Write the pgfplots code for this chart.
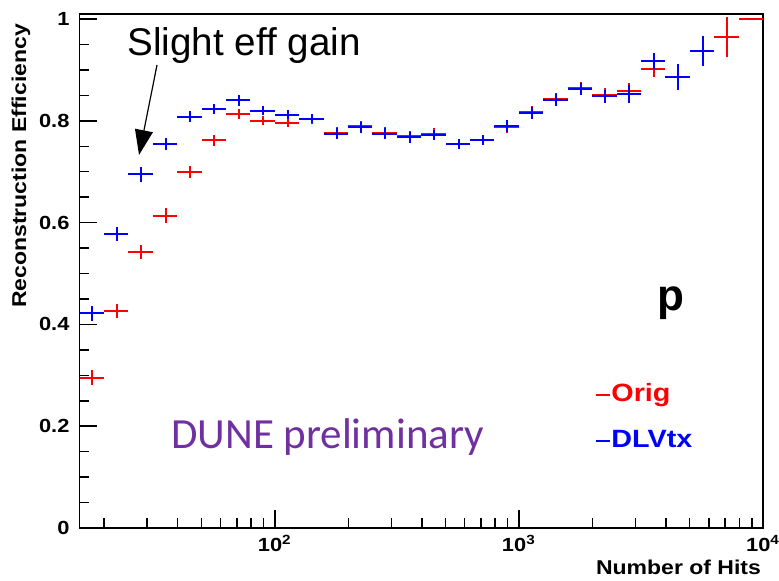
\documentclass[border=0pt]{standalone}
\usepackage{fontspec}
\setmainfont{Liberation Sans}
\newfontfamily\rootfont[FakeStretch=1.15]{Liberation Sans}
\newfontfamily\dunefont{Carlito}
\usepackage{pgfplots}
\pgfplotsset{compat=1.18}
\usepackage{pgfplotstable}
\usetikzlibrary{arrows.meta}
\definecolor{duneviolet}{RGB}{112,48,160}

% 28 log bins, 10^1.2 .. 10^4; x = linear bin centre, ex = half width
\pgfplotstableread{
x       ex      y      ey
17.901  2.052   0.295  0.015
22.536  2.583   0.426  0.014
28.371  3.252   0.543  0.014
35.717  4.094   0.614  0.015
44.965  5.154   0.699  0.012
56.608  6.489   0.762  0.011
71.265  8.169   0.813  0.010
89.717  10.284  0.800  0.009
112.95  12.95   0.796  0.009
142.19  16.30   0.803  0.009
179.01  20.52   0.777  0.010
225.36  25.83   0.789  0.010
283.71  32.52   0.777  0.010
357.17  40.94   0.770  0.011
449.65  51.54   0.775  0.010
566.08  64.89   0.755  0.010
712.65  81.69   0.763  0.010
897.17  102.84  0.788  0.011
1129.5  129.5   0.817  0.012
1421.9  163.0   0.843  0.012
1790.1  205.2   0.864  0.012
2253.6  258.3   0.851  0.013
2837.1  325.2   0.859  0.016
3571.7  409.4   0.902  0.015
4496.5  515.4   0.886  0.026
5660.8  648.9   0.937  0.029
7126.5  816.9   0.965  0.039
8971.7  1028.4  1.000  0.000
}\orig

\pgfplotstableread{
x       ex      y      ey
17.901  2.052   0.422  0.015
22.536  2.583   0.578  0.014
28.371  3.252   0.695  0.015
35.717  4.094   0.754  0.012
44.965  5.154   0.808  0.011
56.608  6.489   0.824  0.010
71.265  8.169   0.840  0.010
89.717  10.284  0.820  0.009
112.95  12.95   0.812  0.009
142.19  16.30   0.804  0.009
179.01  20.52   0.775  0.010
225.36  25.83   0.787  0.010
283.71  32.52   0.775  0.010
357.17  40.94   0.768  0.011
449.65  51.54   0.773  0.010
566.08  64.89   0.754  0.010
712.65  81.69   0.762  0.010
897.17  102.84  0.790  0.011
1129.5  129.5   0.815  0.012
1421.9  163.0   0.841  0.012
1790.1  205.2   0.862  0.012
2253.6  258.3   0.848  0.013
2837.1  325.2   0.853  0.017
3571.7  409.4   0.917  0.016
4496.5  515.4   0.886  0.026
5660.8  648.9   0.937  0.029
}\dlvtx

\begin{document}
\begin{tikzpicture}
\begin{axis}[
  scale only axis,
  width=341.75pt, height=257pt,
  xmode=log, xmin=15.849, xmax=10000,
  ymin=0, ymax=1.01,
  clip=false,
  axis line style={line width=0.75pt},
  tick align=inside, tick pos=left,
  major tick length=9pt, minor tick length=5pt,
  every tick/.style={black, line width=0.75pt},
  xtick={100,1000,10000},
  xticklabels={10\textsuperscript{2},10\textsuperscript{3},10\textsuperscript{4}},
  minor xtick={20,30,40,50,60,70,80,90,200,300,400,500,600,700,800,900,2000,3000,4000,5000,6000,7000,8000,9000},
  ytick={0,0.2,0.4,0.6,0.8,1},
  yticklabels={0,0.2,0.4,0.6,0.8,1},
  minor y tick num=3,
  ticklabel style={font=\rootfont\bfseries\fontsize{9.5}{11}\selectfont},
  yticklabel style={xshift=-1.5pt},
  xlabel={Number of Hits},
  ylabel={Reconstruction Efficiency},
  label style={font=\rootfont\bfseries\fontsize{10}{12}\selectfont},
  xlabel style={at={(axis description cs:0.9985,-0.0759)}, anchor=east, xshift=3pt},
  ylabel style={at={(axis description cs:-0.0856,0.994)}, anchor=east},
  legend style={at={(axis description cs:0.7542,0.2821)}, anchor=north west,
    draw=none, fill=none, inner sep=0pt, row sep=11.4pt,
    font=\rootfont\bfseries\fontsize{12.5}{14}\selectfont,
    nodes={inner sep=0pt, text height=9pt, text depth=2.6pt}},
  legend cell align=left,
]
\addplot[draw=none, mark=none,
  legend image code/.code={\draw[red, line width=1pt] (0pt,0pt) -- (7pt,0pt);},
  error bars/.cd, x dir=both, x explicit, y dir=both, y explicit,
  error mark=none, error bar style={draw=red, line width=1pt}]
  table[x=x, y=y, x error=ex, y error=ey] {\orig};
\addlegendentry[text=red]{Orig}
\addplot[draw=none, mark=none,
  legend image code/.code={\draw[blue, line width=1pt] (0pt,0pt) -- (7pt,0pt);},
  error bars/.cd, x dir=both, x explicit, y dir=both, y explicit,
  error mark=none, error bar style={draw=blue, line width=1pt}]
  table[x=x, y=y, x error=ex, y error=ey] {\dlvtx};
\addlegendentry[text=blue]{DLVtx}

\node[anchor=base west, font=\fontsize{19.3}{22}\selectfont]
  at (rel axis cs:0.0600,0.920) {Slight eff gain};
\draw[-{Triangle[length=12.5pt,width=9pt]}, line width=0.6pt]
  (rel axis cs:0.1134,0.9008) -- (rel axis cs:0.0871,0.7257);
\node[anchor=base west, font=\bfseries\fontsize{22}{26}\selectfont]
  at (rel axis cs:0.836,0.424) {p};
\node[anchor=base west, text=duneviolet, font=\dunefont\fontsize{21.5}{25}\selectfont]
  at (rel axis cs:0.1238,0.1556) {DUNE preliminary};
\end{axis}
\pgfresetboundingbox
\path[use as bounding box] ([shift={(-39.75pt,-26.5pt)}]current axis.south west)
  rectangle ([shift={(8pt,7pt)}]current axis.north east);
\end{tikzpicture}
\end{document}
